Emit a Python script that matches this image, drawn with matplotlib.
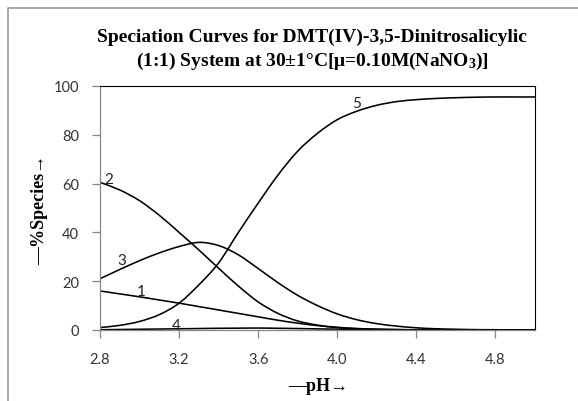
import matplotlib
matplotlib.use("Agg")
import matplotlib.pyplot as plt
from matplotlib.lines import Line2D
from matplotlib.path import Path
from matplotlib.patches import PathPatch

plt.rcParams['mathtext.fontset'] = 'custom'
plt.rcParams['mathtext.rm'] = 'Liberation Serif:bold'
plt.rcParams['mathtext.default'] = 'rm'

ph = [2.8, 2.9, 3.0, 3.1, 3.2, 3.3, 3.4, 3.5, 3.6, 3.7, 3.8, 3.9, 4.0,
      4.1, 4.2, 4.3, 4.4, 4.5, 4.6, 4.7, 4.8, 4.9, 5.0]
curve1 = [16.0, 14.8, 13.6, 12.3, 11.0, 9.6, 8.2, 6.8, 5.4, 4.0, 2.8, 1.8, 1.1,
          0.6, 0.3, 0.15, 0.08, 0.04, 0.02, 0.01, 0.0, 0.0, 0.0]
curve2 = [60.5, 57.4, 53.0, 47.0, 40.0, 32.8, 25.3, 18.0, 11.5, 6.8, 3.7, 2.0, 1.0,
          0.5, 0.3, 0.15, 0.08, 0.04, 0.02, 0.01, 0.0, 0.0, 0.0]
curve3 = [21.0, 24.8, 28.4, 31.6, 34.2, 35.9, 34.6, 30.8, 25.2, 19.4, 14.2, 10.0, 6.6,
          4.2, 2.6, 1.6, 0.9, 0.5, 0.3, 0.15, 0.1, 0.05, 0.0]
curve4 = [0.1, 0.2, 0.3, 0.4, 0.5, 0.6, 0.7, 0.75, 0.8, 0.7, 0.6, 0.45, 0.35,
          0.25, 0.15, 0.1, 0.05, 0.02, 0.0, 0.0, 0.0, 0.0, 0.0]
curve5 = [1.0, 1.9, 3.5, 6.3, 11.0, 18.5, 27.5, 40.0, 52.0, 63.5, 73.3, 80.6, 86.2,
          89.7, 92.1, 93.6, 94.4, 94.9, 95.2, 95.4, 95.5, 95.5, 95.5]
series = [curve1, curve2, curve3, curve4, curve5]
labels = ["1", "2", "3", "4", "5"]
label_pos = [(3.01, 16.0), (2.842, 62.0), (2.91, 28.8), (3.184, 1.9), (4.10, 93.1)]
xticks = [2.8, 3.2, 3.6, 4.0, 4.4, 4.8]
xticklabels = ["2.8", "3.2", "3.6", "4.0", "4.4", "4.8"]
yticks = [0, 20, 40, 60, 80, 100]


def smooth_path(xs, ys):
    """Excel-style smoothed line: Catmull-Rom converted to cubic Bezier."""
    n = len(xs)
    verts = [(xs[0], ys[0])]
    codes = [Path.MOVETO]
    for i in range(n - 1):
        x0, y0 = (xs[i - 1], ys[i - 1]) if i > 0 else (xs[i], ys[i])
        x1, y1 = xs[i], ys[i]
        x2, y2 = xs[i + 1], ys[i + 1]
        x3, y3 = (xs[i + 2], ys[i + 2]) if i + 2 < n else (x2, y2)
        c1 = (x1 + (x2 - x0) / 6.0, y1 + (y2 - y0) / 6.0)
        c2 = (x2 - (x3 - x1) / 6.0, y2 - (y3 - y1) / 6.0)
        verts += [c1, c2, (x2, y2)]
        codes += [Path.CURVE4] * 3
    return Path(verts, codes)


fig = plt.figure(figsize=(5.78, 4.02), dpi=100)
ax = fig.add_axes([100/578, 1-331/402, 435/578, 244/402])

for s in series:
    ax.add_patch(PathPatch(smooth_path(ph, s), facecolor='none',
                           edgecolor='black', lw=1.15, capstyle='round',
                           joinstyle='round', clip_on=True))

for lab, (x, y) in zip(labels, label_pos):
    ax.text(x, y, lab, fontsize=11, family='Lato', ha='center', va='center',
            color='#222222')

ax.set_xlim(2.8, 5.0)
ax.set_ylim(0, 100)
ax.set_xticks(xticks)
ax.set_xticklabels(xticklabels)
ax.set_yticks(yticks)
ax.tick_params(direction='out', length=6, width=0.9, color='#868686',
               labelsize=10.5)
ax.yaxis.set_tick_params(pad=9)
ax.xaxis.set_tick_params(pad=10)
for lbl in ax.get_xticklabels() + ax.get_yticklabels():
    lbl.set_family('Lato')
    lbl.set_color('#333333')
for side in ['top', 'right']:
    ax.spines[side].set_color('black')
    ax.spines[side].set_linewidth(0.8)
for side in ['left', 'bottom']:
    ax.spines[side].set_color('#868686')
    ax.spines[side].set_linewidth(0.9)

serif = ['Liberation Serif', 'DejaVu Serif']
fig.text(312/578, 1-37/402, "Speciation Curves for DMT(IV)-3,5-Dinitrosalicylic",
         ha='center', va='center', fontsize=14, fontweight='bold', family=serif)
fig.text(312/578, 1-61/402, "(1:1) System at 30±1°C[μ=0.10M(NaNO$_3$)]",
         ha='center', va='center', fontsize=14, fontweight='bold', family=serif)
fig.text(318/578, 1-387/402, "—pH→", ha='center', va='center',
         fontsize=13, fontweight='bold', family=serif)
fig.text(40/578, 1-210/402, "—%Species→", ha='center', va='center',
         rotation=90, fontsize=13, fontweight='bold', family=serif)

# outer chart border (partially visible)
fig.add_artist(Line2D([8/578, 8/578, 1.0], [0.0, 1-9/402, 1-9/402],
                      transform=fig.transFigure, color='#9a9a9a', lw=1.2))

fig.savefig("out.png", dpi=100)
